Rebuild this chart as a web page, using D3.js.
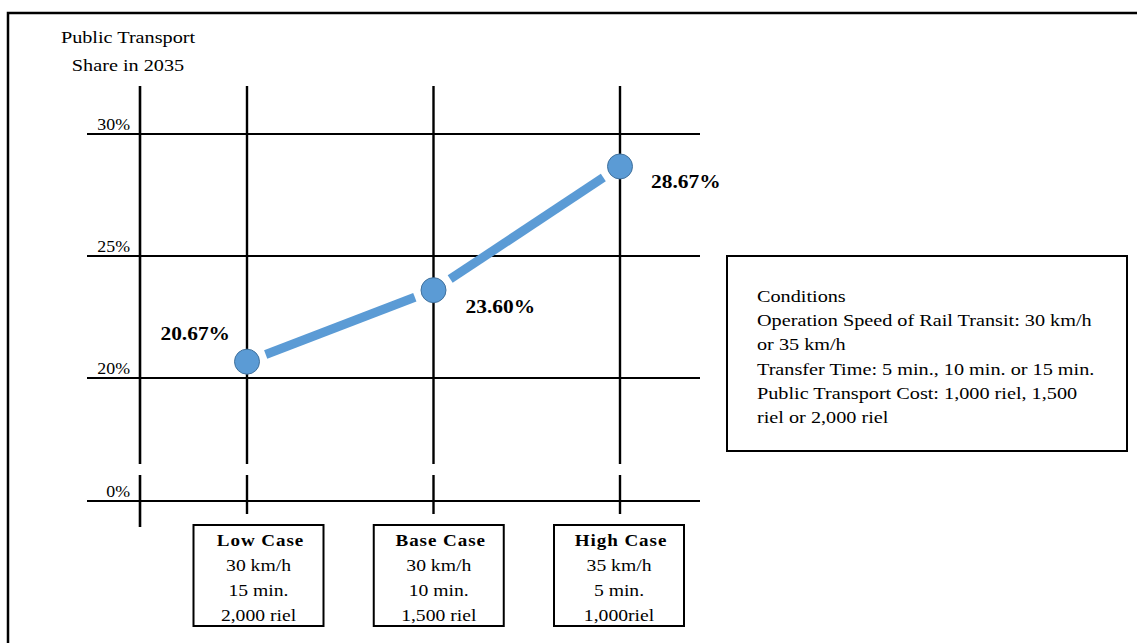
<!DOCTYPE html>
<html><head><meta charset="utf-8">
<script src="https://cdn.jsdelivr.net/npm/d3@7"></script>
<style>
html,body{margin:0;padding:0;background:#fff;}
svg{display:block;}
text{font-family:"Liberation Serif","Times New Roman",serif;fill:#000;}
</style></head>
<body>
<script>
// ---- data ----
const categories = ["Low Case", "Base Case", "High Case"];
const shareValues = [20.67, 23.60, 28.67];
const valueLabels = ["20.67%", "23.60%", "28.67%"];
const tickValues = [0, 20, 25, 30];
const tickLabels = ["0%", "20%", "25%", "30%"];
const caseSpeed = ["30 km/h", "30 km/h", "35 km/h"];
const caseTransfer = ["15 min.", "10 min.", "5 min."];
const caseCost = ["2,000 riel", "1,500 riel", "1,000riel"];
const titleLines = ["Public Transport", "Share in 2035"];
const conditionLines = [
  "Conditions",
  "Operation Speed of Rail Transit: 30 km/h",
  "or 35 km/h",
  "Transfer Time: 5 min., 10 min. or 15 min.",
  "Public Transport Cost: 1,000 riel, 1,500",
  "riel or 2,000 riel"
];

// ---- layout ----
const W = 1137, H = 643;
const SX = 1.19; // horizontal text stretch of the original
const blue = "#5B9BD5", blueDark = "#41719C";
const svg = d3.select("body").append("svg").attr("width", W).attr("height", H);

const x = d3.scalePoint().domain(categories).range([247, 620]);
const xBox = d3.scalePoint().domain(categories).range([258.5, 619]);
const y = d3.scaleLinear().domain([0, 20, 30]).range([501, 378, 134]);
const axisX = 140, gridLeft = 87, gridRight = 700;
const topY = 86, breakTop = 464, breakBottom = 475;

function txt(sel, tx, ty, sx) {
  return sel.attr("transform", `translate(${tx},${ty}) scale(${sx || SX},1)`);
}

// frame
svg.append("path").attr("d", `M8,${H} V13 H${W}`).attr("fill", "none")
  .attr("stroke", "#000").attr("stroke-width", 2.5);

// title
titleLines.forEach((t, i) => {
  txt(svg.append("text").attr("text-anchor", "middle").attr("font-size", 17).text(t), 128, 43 + i * 28);
});

// horizontal grid lines
const g = svg.append("g");
g.selectAll("line.h").data(tickValues).join("line")
  .attr("x1", gridLeft).attr("x2", gridRight)
  .attr("y1", d => y(d)).attr("y2", d => y(d))
  .attr("stroke", "#000").attr("stroke-width", 2);

// tick labels
tickValues.forEach((v, i) => {
  txt(svg.append("text").attr("text-anchor", "end").attr("font-size", 17).text(tickLabels[i]), 130, y(v) - 4, 1.05);
});

// y axis (broken)
g.append("line").attr("x1", axisX).attr("x2", axisX).attr("y1", topY).attr("y2", breakTop)
  .attr("stroke", "#000").attr("stroke-width", 2.6);
g.append("line").attr("x1", axisX).attr("x2", axisX).attr("y1", breakBottom).attr("y2", 527)
  .attr("stroke", "#000").attr("stroke-width", 2.6);

// category lines (broken)
categories.forEach(c => {
  g.append("line").attr("x1", x(c)).attr("x2", x(c)).attr("y1", topY).attr("y2", breakTop)
    .attr("stroke", "#000").attr("stroke-width", 2.4);
  g.append("line").attr("x1", x(c)).attr("x2", x(c)).attr("y1", breakBottom).attr("y2", 514)
    .attr("stroke", "#000").attr("stroke-width", 2.4);
});

// line segments with gaps around markers
const pts = categories.map((c, i) => [x(c), y(shareValues[i])]);
const R = 12.5, gap = 20;
for (let i = 0; i < pts.length - 1; i++) {
  const [x1, y1] = pts[i], [x2, y2] = pts[i + 1];
  const dx = x2 - x1, dy = y2 - y1, L = Math.hypot(dx, dy);
  const ux = dx / L, uy = dy / L;
  svg.append("line")
    .attr("x1", x1 + ux * gap).attr("y1", y1 + uy * gap)
    .attr("x2", x2 - ux * gap).attr("y2", y2 - uy * gap)
    .attr("stroke", blue).attr("stroke-width", 9);
}
svg.selectAll("circle.pt").data(pts).join("circle")
  .attr("cx", d => d[0]).attr("cy", d => d[1]).attr("r", R)
  .attr("fill", blue).attr("stroke", blueDark).attr("stroke-width", 1);

// value labels
const labelOffsets = [[-17, -22, "end"], [32, 23, "start"], [31, 22, "start"]];
pts.forEach((p, i) => {
  const [ox, oy, anc] = labelOffsets[i];
  txt(svg.append("text").attr("text-anchor", anc).attr("font-size", 18).attr("font-weight", "bold")
    .text(valueLabels[i]), p[0] + ox, p[1] + oy);
});

// case boxes
const boxW = 130, boxTop = 525, boxBottom = 626;
categories.forEach((c, i) => {
  const cx = xBox(c);
  svg.append("rect").attr("x", cx - boxW / 2).attr("y", boxTop).attr("width", boxW).attr("height", boxBottom - boxTop)
    .attr("fill", "#fff").attr("stroke", "#000").attr("stroke-width", 2);
  txt(svg.append("text").attr("text-anchor", "middle").attr("font-size", 16).attr("font-weight", "bold")
    .attr("letter-spacing", 0.8).text(c), cx + 2, 546);
  [caseSpeed[i], caseTransfer[i], caseCost[i]].forEach((t, j) => {
    txt(svg.append("text").attr("text-anchor", "middle").attr("font-size", 16.5).text(t), cx, 571 + j * 25);
  });
});

// conditions box
svg.append("rect").attr("x", 727).attr("y", 256).attr("width", 400).attr("height", 195)
  .attr("fill", "#fff").attr("stroke", "#000").attr("stroke-width", 2);
conditionLines.forEach((t, i) => {
  txt(svg.append("text").attr("font-size", 17).text(t), 757, 302 + i * 24.2);
});
</script>
</body></html>
